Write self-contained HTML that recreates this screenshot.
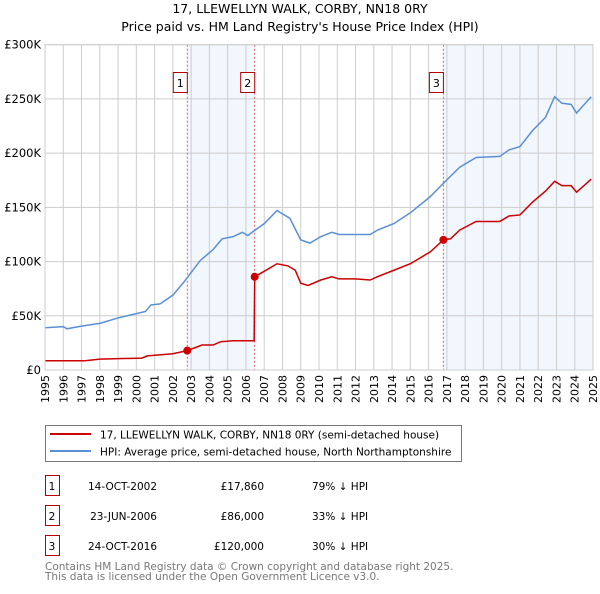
<!DOCTYPE html>
<html><head><meta charset="utf-8"><style>
body{margin:0;background:#fff;font-family:"DejaVu Sans","Liberation Sans",sans-serif;}
svg text{font-family:"DejaVu Sans","Liberation Sans",sans-serif;}
</style></head><body>
<svg id="chart" width="600" height="590" xmlns="http://www.w3.org/2000/svg">
<text x="300" y="13" text-anchor="middle" font-size="12.5">17, LLEWELLYN WALK, CORBY, NN18 0RY</text>
<text x="300" y="31" text-anchor="middle" font-size="12.5">Price paid vs. HM Land Registry's House Price Index (HPI)</text>
<g id="plot"></g>
<rect x="45.5" y="425.5" width="416" height="36" fill="none" stroke="#777"/>
<line x1="50" y1="434" x2="91" y2="434" stroke="#cc0000" stroke-width="2"/>
<text x="100" y="438.5" font-size="10.5">17, LLEWELLYN WALK, CORBY, NN18 0RY (semi-detached house)</text>
<line x1="50" y1="451" x2="91" y2="451" stroke="#5b8fd4" stroke-width="2"/>
<text x="100" y="455.5" font-size="10.5">HPI: Average price, semi-detached house, North Northamptonshire</text>
<g id="table" font-size="10.5"></g>
<text x="45" y="570" font-size="10.5" fill="#777">Contains HM Land Registry data © Crown copyright and database right 2025.</text>
<text x="45" y="580" font-size="10.5" fill="#777">This data is licensed under the Open Government Licence v3.0.</text>
</svg>
<script>
const hpiYears=[1995,1996,1996.2,1997,1998,1999,2000,2000.5,2000.8,2001.3,2002,2002.6,2003.5,2004.2,2004.7,2005.3,2005.8,2006.1,2006.5,2007,2007.7,2008.4,2009,2009.5,2010.1,2010.7,2011.1,2012,2012.8,2013.2,2014.1,2015,2016.1,2016.8,2017.7,2018.6,2019.9,2020.4,2021,2021.7,2022.4,2022.9,2023.3,2023.8,2024.1,2024.9];
const hpiValues=[39,40,38,40.5,43,48,52,54,60,61,69,81,101,111,121,123,127,124,129,135,147,140,120,117,123,127,125,125,125,129,135,145,160,172,187,196,197,203,206,221,233,252,246,245,237,252];
const redYears=[1995,1997.2,1998,2000.3,2000.6,2002,2002.79,2003.6,2004.2,2004.6,2005.3,2006.45,2006.48,2007,2007.7,2008.3,2008.7,2009,2009.4,2010.1,2010.7,2011.1,2012,2012.8,2013.2,2014.1,2015,2016.1,2016.81,2017.2,2017.7,2018.6,2019.9,2020.4,2021,2021.7,2022.4,2022.9,2023.3,2023.8,2024.1,2024.9];
const redValues=[8.5,8.5,10,11,13,15,17.86,23,23,26,27,27,86,91,98,96,92,80,78,83,86,84,84,83,86,92,98,109,120,121,129,137,137,142,143,155,165,174,170,170,164,176];
const saleYears=[2002.79,2006.48,2016.81];
const salePrices=[17.86,86,120];
const saleLabels=["1","2","3"];
const saleDates=["14-OCT-2002","23-JUN-2006","24-OCT-2016"];
const salePriceText=["£17,860","£86,000","£120,000"];
const saleHpiText=["79% ↓ HPI","33% ↓ HPI","30% ↓ HPI"];
const yTicks=[0,50,100,150,200,250,300];
const yTickLabels=["£0","£50K","£100K","£150K","£200K","£250K","£300K"];
const xTicks=[1995,1996,1997,1998,1999,2000,2001,2002,2003,2004,2005,2006,2007,2008,2009,2010,2011,2012,2013,2014,2015,2016,2017,2018,2019,2020,2021,2022,2023,2024,2025];

const NS="http://www.w3.org/2000/svg";
const L=45,R=593,T=44.7,B=370;
const xs=y=>L+(y-1995)/30*(R-L);
const ys=v=>B-v/300*(B-T);
const plot=document.getElementById('plot');
function mk(tag,attrs,parent){const e=document.createElementNS(NS,tag);for(const k in attrs)e.setAttribute(k,attrs[k]);(parent||plot).appendChild(e);return e;}

[[saleYears[0],saleYears[1]],[saleYears[2],2025]].forEach((p,i)=>{
  const r=mk('rect',{x:xs(p[0]),y:T,width:xs(p[1])-xs(p[0]),height:B-T,fill:'#f2f6fd'});
  
  
});
xTicks.forEach(t=>{
  const l=mk('line',{x1:xs(t),x2:xs(t),y1:T,y2:B,stroke:'#ccc','stroke-width':1});
  
  
  const tx=mk('text',{x:0,y:0,'font-size':11,'text-anchor':'end',transform:`translate(${xs(t)+4},${B+5}) rotate(-90)`});
  tx.textContent=t;
  
  
});
yTicks.forEach((t,i)=>{
  const l=mk('line',{x1:L,x2:R,y1:ys(t),y2:ys(t),stroke:'#ccc','stroke-width':1});
  
  
  const tx=mk('text',{x:L-4,y:ys(t)+4,'font-size':11.5,'text-anchor':'end'});
  tx.textContent=yTickLabels[i];
  
  
});
saleYears.forEach((s,i)=>{
  const l=mk('line',{x1:xs(s),x2:xs(s),y1:T,y2:B,stroke:'#e06060','stroke-width':1,'stroke-dasharray':'2,2'});
  
  
  const bx=mk('rect',{x:xs(s)-14,y:72.5,width:14,height:20,fill:'#fff',stroke:'#b00000'});
  
  
  const tx=mk('text',{x:xs(s)-7,y:87,'font-size':11,'text-anchor':'middle'});
  tx.textContent=saleLabels[i];
  
  
});
const hp=mk('polyline',{points:hpiYears.map((y,i)=>xs(y)+','+ys(hpiValues[i])).join(' '),fill:'none',stroke:'#5b8fd4','stroke-width':1.5});


const rp=mk('polyline',{points:redYears.map((y,i)=>xs(y)+','+ys(redValues[i])).join(' '),fill:'none',stroke:'#cc0000','stroke-width':1.5});


saleYears.forEach((s,i)=>{
  const c=mk('circle',{cx:xs(s),cy:ys(salePrices[i]),r:4,fill:'#cc0000'});
  
  
});
const ax=mk('rect',{x:L,y:T,width:R-L,height:B-T,fill:'none',stroke:'#ccc'});



const tb=document.getElementById('table');
saleLabels.forEach((lab,i)=>{
  const y=475+i*30;
  const b=mk('rect',{x:45.5,y:y+0.5,width:14,height:20,fill:'#fff',stroke:'#b00000'},tb);
  
  
  const cols=[[52,lab,'middle'],[157,saleDates[i],'end'],[264,salePriceText[i],'end'],[312,saleHpiText[i],'start']];
  cols.forEach((c,j)=>{
    const t=mk('text',{x:c[0],y:y+15,'text-anchor':c[2]},tb);
    t.textContent=c[1];
    
    
  });
});
</script>
</body></html>
